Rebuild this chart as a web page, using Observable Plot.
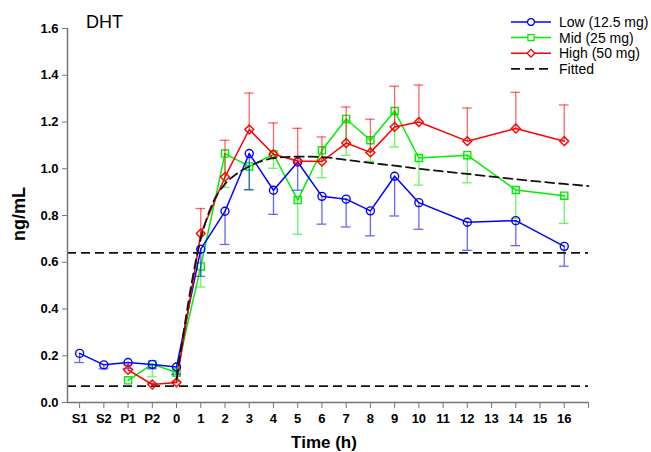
<!DOCTYPE html>
<html><head><meta charset="utf-8">
<script src="https://cdn.jsdelivr.net/npm/d3@7"></script>
<script src="https://cdn.jsdelivr.net/npm/@observablehq/plot@0.6"></script>
<style>body{margin:0;background:#fff;} svg{display:block;}</style>
</head><body><div id="chart"></div>
<script>
// ---- tick labels ----
const xTickValues = d3.range(-4, 18);
const xTickLabels = ["S1","S2","P1","P2","0","1","2","3","4","5","6","7","8","9","10","11","12","13","14","15","16",""];
const yTickValues = [0, 0.2, 0.4, 0.6, 0.8, 1.0, 1.2, 1.4, 1.6];

// ---- Low (12.5 mg) ----
const lowTime = [-4,-3,-2,-1,0,1,2,3,4,5,6,7,8,9,10,12,14,16];
const lowMean = [0.21,0.161,0.171,0.163,0.152,0.656,0.818,1.065,0.908,1.029,0.882,0.87,0.82,0.968,0.855,0.771,0.778,0.668];
const lowSE   = [0.039,0.017,0.026,0.019,0.031,0.116,0.142,0.154,0.103,0.121,0.119,0.119,0.107,0.17,0.114,0.12,0.107,0.085];

// ---- Mid (25 mg) ----
const midTime = [-2,-1,0,1,2,3,4,5,6,7,8,9,10,12,14,16];
const midMean = [0.095,0.164,0.128,0.582,1.065,1.01,1.062,0.866,1.079,1.213,1.122,1.247,1.046,1.058,0.909,0.885];
const midSE   = [0,0.054,0.015,0.088,0.145,0.102,0.06,0.146,0.117,0.155,0.09,0.154,0.116,0.118,0.122,0.119];

// ---- High (50 mg) ----
const highTime = [-2,-1,0,1,2,3,4,5,6,7,8,9,10,12,14,16];
const highMean = [0.14,0.077,0.086,0.723,0.965,1.168,1.062,1.033,1.031,1.11,1.07,1.179,1.2,1.118,1.172,1.118];
const highSE   = [0.02,0.005,0.005,0.107,0.157,0.156,0.134,0.14,0.105,0.154,0.142,0.174,0.158,0.142,0.155,0.155];

// ---- Fitted curve ----
const fitTime = [0,1,1.5,2,2.5,3,4,5,6,7,8,9,10,12,14,16,17];
const fitVal  = [0.1,0.70,0.855,0.935,0.98,1.01,1.045,1.052,1.05,1.038,1.025,1.013,1.0,0.978,0.955,0.935,0.926];

// ---- reference lines ----
const refLines = [0.64, 0.07];

const colors = {Low: "#0000ff", Mid: "#00ee00", High: "#ff0000"};
const xDomain = [-4.5, 17];

function rows(name, T, M, S, dir) {
  return T.map((t, i) => ({
    series: name, t, v: M[i],
    lo: dir < 0 ? M[i] - S[i] : M[i],
    hi: dir < 0 ? M[i] : M[i] + S[i],
    cap: dir < 0 ? M[i] - S[i] : M[i] + S[i]
  }));
}
const low = rows("Low", lowTime, lowMean, lowSE, -1);
const mid = rows("Mid", midTime, midMean, midSE, -1);
const high = rows("High", highTime, highMean, highSE, 1);
const fit = fitTime.map((t, i) => ({t, v: fitVal[i]}));

function seriesMarks(data, color, symbol) {
  const withErr = data.filter(d => d.hi - d.lo > 0.004);
  return [
    Plot.ruleX(withErr, {x: "t", y1: "lo", y2: "hi", stroke: color, strokeOpacity: 0.6, strokeWidth: 1.3}),
    Plot.ruleY(withErr, {y: "cap", x1: d => d.t - 0.2, x2: d => d.t + 0.2, stroke: color, strokeOpacity: 0.6, strokeWidth: 1.3}),
    Plot.line(data, {x: "t", y: "v", stroke: color, strokeWidth: 1.5}),
    Plot.dot(data, {x: "t", y: "v", stroke: color, fill: "none", symbol, r: 4, strokeWidth: 1.4})
  ];
}

const W = 651, H = 452;
const svg = Plot.plot({
  width: W, height: H,
  marginLeft: 67, marginRight: 63, marginTop: 28, marginBottom: 50,
  style: {fontFamily: "'Liberation Sans', Arial, sans-serif", fontSize: "13px", background: "#fff", color: "#000"},
  x: {domain: xDomain},
  y: {domain: [0, 1.6]},
  marks: [
    Plot.ruleY(refLines, {stroke: "#111", strokeWidth: 1.6, strokeDasharray: "9,5"}),
    ...seriesMarks(mid, colors.Mid, "square"),
    ...seriesMarks(low, colors.Low, "circle"),
    ...seriesMarks(high, colors.High, "diamond2"),
    Plot.line(fit, {x: "t", y: "v", curve: "monotone-x", stroke: "#111", strokeWidth: 1.8, strokeDasharray: "9,5"}),
    Plot.ruleY([0], {stroke: "#777", strokeWidth: 1.5}),
    Plot.ruleX([xDomain[0]], {stroke: "#777", strokeWidth: 1.5}),
    Plot.axisX({ticks: xTickValues, tickFormat: d => xTickLabels[xTickValues.indexOf(d)], tickSize: 6, tickPadding: 5, stroke: "#777", fontWeight: "bold", fontSize: 13, label: null}),
    Plot.axisY({ticks: yTickValues, tickFormat: d3.format(".1f"), tickSize: 5, tickPadding: 4, stroke: "#777", fontWeight: "bold", fontSize: 13, label: null})
  ]
});

const s = d3.select(svg);
const font = "'Liberation Sans', Arial, sans-serif";
// Title
s.append("text").attr("x", 86).attr("y", 28).attr("text-anchor", "start").attr("font-family", font).attr("font-size", 18).attr("fill", "#000").text("DHT");
// Axis labels
s.append("text").attr("transform", "translate(25,214) rotate(-90)").attr("text-anchor", "middle")
  .attr("font-family", font).attr("font-size", 18).attr("font-weight", "bold").attr("fill", "#000").text("ng/mL");
s.append("text").attr("x", 324).attr("y", 448).attr("text-anchor", "middle")
  .attr("font-family", font).attr("font-size", 17).attr("font-weight", "bold").attr("fill", "#000").text("Time (h)");

// Legend
const legendItems = [
  {label: "Low (12.5 mg)", color: colors.Low, sym: d3.symbolCircle},
  {label: "Mid (25 mg)", color: colors.Mid, sym: d3.symbolSquare},
  {label: "High (50 mg)", color: colors.High, sym: d3.symbolDiamond2},
  {label: "Fitted", color: "#111", sym: null}
];
const lg = s.append("g");
legendItems.forEach((it, i) => {
  const y = 22 + i * 15.6;
  const g = lg.append("g").attr("transform", `translate(0,${y})`);
  g.append("line").attr("x1", 511).attr("x2", 551).attr("y1", 0).attr("y2", 0)
    .attr("stroke", it.color).attr("stroke-width", it.sym ? 1.5 : 1.8)
    .attr("stroke-dasharray", it.sym ? null : "9,5");
  if (it.sym) {
    g.append("path").attr("transform", "translate(531,0)")
      .attr("d", d3.symbol().type(it.sym).size(Math.PI * 12)())
      .attr("fill", "#fff").attr("stroke", it.color).attr("stroke-width", 1.3);
  }
  g.append("text").attr("x", 559).attr("y", 5).attr("text-anchor", "start").attr("font-family", font).attr("font-size", 14).attr("fill", "#000").text(it.label);
});

document.getElementById("chart").appendChild(svg);
</script>
</body></html>
